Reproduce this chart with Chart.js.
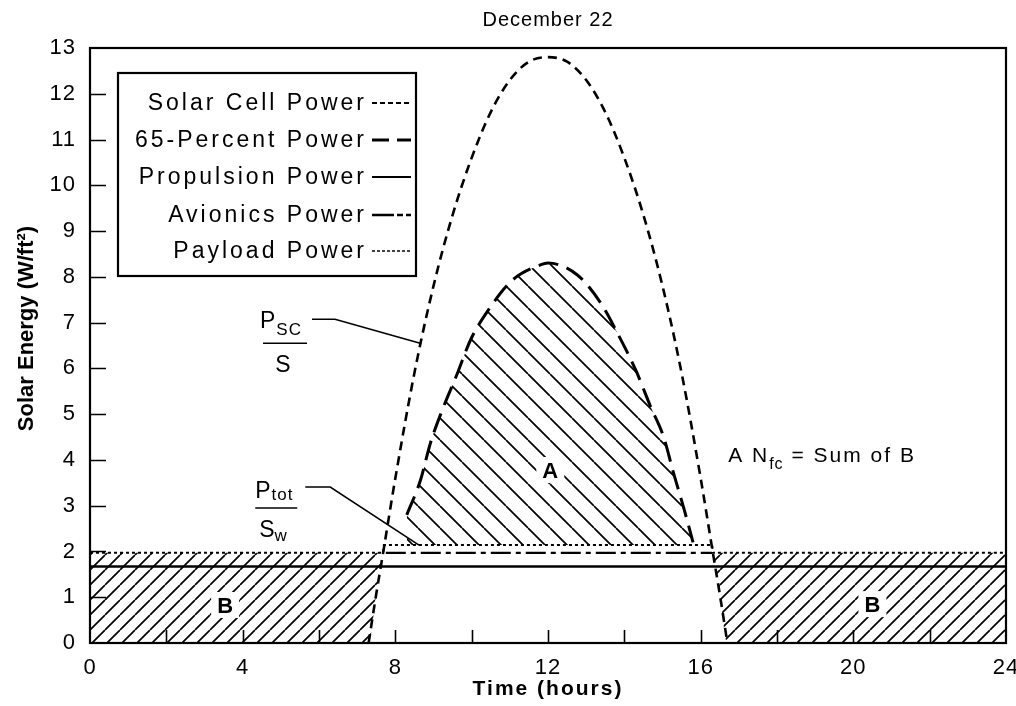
<!DOCTYPE html>
<html><head><meta charset="utf-8">
<script src="https://cdn.jsdelivr.net/npm/chart.js@4.4.1/dist/chart.umd.min.js"></script>
<style>html,body{margin:0;padding:0;background:#fff;}canvas{display:block;}</style>
</head><body>
<canvas id="c" width="1016" height="706"></canvas>
<script>
// ---- data ----
const solarHours = [7.3, 7.5, 7.68, 8, 8.5, 9, 9.5, 10, 10.5, 11, 11.5, 12, 12.5, 13, 13.5, 14, 14.5, 15, 15.5, 16, 16.32, 16.5, 16.7];
const solarPower = [0, 1.07, 1.97, 3.6, 5.9, 7.8, 9.35, 10.6, 11.6, 12.3, 12.7, 12.8, 12.7, 12.3, 11.6, 10.6, 9.35, 7.8, 5.9, 3.6, 1.97, 1.07, 0];
const pct65Hours = [8.3, 8.66, 8.92, 9.23, 9.63, 9.97, 10.44, 11.07, 11.8, 12.0, 12.77, 13.38, 13.82, 14.3, 14.69, 15.03, 15.29, 15.55, 15.8];
const pct65Power = [2.8, 3.56, 4.37, 5.09, 5.9, 6.62, 7.28, 7.93, 8.26, 8.3, 8.04, 7.43, 6.77, 5.96, 5.16, 4.5, 3.71, 2.97, 2.2];
const propulsionHours = [0, 24];
const propulsionPower = [1.67, 1.67];
const avionicsHours = [7.75, 16.3];
const avionicsPower = [1.97, 1.97];
const payloadHours = [0, 7.68, 7.7, 16.3, 16.32, 24];
const payloadPower = [1.97, 1.97, 2.14, 2.14, 1.97, 1.97];
const hourLabels = [0, 4, 8, 12, 16, 20, 24];
const hourTickMarks = [2, 4, 6, 8, 10, 12, 14, 16, 18, 20, 22];
const energyTickMarks = [1, 2, 3, 4, 5, 6, 7, 8, 9, 10, 11, 12];
const seriesNames = ['Solar Cell Power', '65-Percent Power', 'Propulsion Power', 'Avionics Power', 'Payload Power'];

const pts = (xs, ys) => xs.map((x, i) => ({x, y: ys[i]}));
const solarPts = pts(solarHours, solarPower);
const payloadPts = pts(payloadHours, payloadPower);
const payloadDayLevel = Math.max(...payloadPower);
const nightLevel = payloadPower[0];
const crossL = payloadHours[1], crossR = payloadHours[4];
// lower edges of the hatched night regions B (axis, then the solar curve)
const bBotL = [{x: 0, y: 0}].concat(solarPts.filter(p => p.x <= crossL).map(p => ({x: p.x, y: p.y})));
const bBotR = solarPts.filter(p => p.x >= crossR).map(p => ({x: p.x, y: p.y})).concat([{x: 24, y: 0}]);

function hatch(size, dir) {
  const c = document.createElement('canvas'); c.width = c.height = size;
  const g = c.getContext('2d'); g.strokeStyle = '#000'; g.lineWidth = 1.7;
  g.beginPath();
  for (let k = -1; k <= 1; k++) {
    if (dir === '/') { g.moveTo(k * size, size); g.lineTo(k * size + size, 0); }
    else { g.moveTo(k * size, 0); g.lineTo(k * size + size, size); }
  }
  g.stroke();
  return g.createPattern(c, 'repeat');
}
const hatchA = hatch(22, '\\');
const hatchB = hatch(15, '/');
const NONE = 'rgba(0,0,0,0)';

// letter spacing tweaks for the scanned Helvetica look
if (Chart.Scale) {
  const P = Chart.Scale.prototype, oL = P.drawLabels, oT = P.drawTitle;
  P.drawLabels = function (a) { const c = this.ctx; const s = c.letterSpacing; c.letterSpacing = '1px'; oL.call(this, a); c.letterSpacing = s; };
  P.drawTitle = function () { const c = this.ctx; c.save(); if (this.axis === 'x') { c.letterSpacing = '2px'; } else { c.letterSpacing = '0px'; c.translate(0, -17); } oT.call(this); c.restore(); };
}

Chart.defaults.font.family = "'Liberation Sans', Arial, Helvetica, sans-serif";
Chart.defaults.color = '#000';

const lineBase = {pointRadius: 0, fill: false, borderColor: '#000', backgroundColor: NONE, cubicInterpolationMode: 'monotone'};

const datasets = [
  Object.assign({}, lineBase, {label: seriesNames[0], data: solarPts, borderWidth: 2.6, borderDash: [9, 6], legendDash: [5, 3], legendWidth: 2}),
  Object.assign({}, lineBase, {label: seriesNames[1], data: pts(pct65Hours, pct65Power), borderWidth: 3, borderDash: [20, 9], fill: {value: payloadDayLevel}, backgroundColor: hatchA, legendDash: [17, 8], legendWidth: 3}),
  Object.assign({}, lineBase, {label: seriesNames[2], data: pts(propulsionHours, propulsionPower), borderWidth: 2.4, borderDash: [], legendDash: [], legendWidth: 2}),
  Object.assign({}, lineBase, {label: seriesNames[3], data: pts(avionicsHours, avionicsPower), borderWidth: 2.4, borderDash: [20, 5, 5, 5], legendDash: [22, 3, 6, 3], legendWidth: 2.5}),
  Object.assign({}, lineBase, {label: seriesNames[4], data: payloadPts, borderWidth: 2, borderDash: [3, 3], cubicInterpolationMode: 'default', tension: 0, legendDash: [3, 2], legendWidth: 1.6}),
  Object.assign({}, lineBase, {label: 'B left', data: bBotL, borderWidth: 0, borderColor: NONE, fill: {value: nightLevel}, backgroundColor: hatchB}),
  Object.assign({}, lineBase, {label: 'B right', data: bBotR, borderWidth: 0, borderColor: NONE, fill: {value: nightLevel}, backgroundColor: hatchB})
];

// annotation anchors (data units)
const notes = {
  psc: {bar: [5.11, 6.55], target: [8.65, 6.55]},
  ptot: {bar: [4.88, 2.95], target: [8.62, 2.14]},
  sum: [16.72, 3.95],
  labelA: [12.06, 3.78],
  labelB: [[3.54, 0.83], [20.5, 0.85]]
};

function t(ctx, s, x, y, font, align, spacing) {
  ctx.font = font; ctx.textAlign = align || 'left'; ctx.textBaseline = 'alphabetic';
  ctx.letterSpacing = spacing || '0px';
  ctx.fillText(s, x, y);
  return ctx.measureText(s).width;
}
function seg(ctx, ...p) {
  ctx.beginPath(); ctx.moveTo(p[0][0], p[0][1]);
  for (let i = 1; i < p.length; i++) ctx.lineTo(p[i][0], p[i][1]);
  ctx.stroke();
}

const F = "'Liberation Sans', Arial, sans-serif";
const overlay = {
  id: 'overlay',
  beforeDraw(chart) { chart.ctx.letterSpacing = '1px'; },
  afterDatasetsDraw(chart) {
    const {ctx, chartArea: a, scales: {x, y}} = chart;
    const px = d => [x.getPixelForValue(d[0]), y.getPixelForValue(d[1])];
    ctx.save();
    ctx.fillStyle = '#000'; ctx.strokeStyle = '#000'; ctx.setLineDash([]);
    // bold region labels with white backing
    const lab = (d, s) => { const [cx, cy] = px(d); ctx.fillStyle = '#fff'; ctx.fillRect(cx - 14, cy - 13, 28, 26); ctx.fillStyle = '#000'; t(ctx, s, cx, cy + 8, "bold 22px " + F, 'center'); };
    lab(notes.labelA, 'A');
    notes.labelB.forEach(d => lab(d, 'B'));
    // frame
    ctx.lineWidth = 2.2;
    ctx.strokeRect(a.left, a.top, a.right - a.left, a.bottom - a.top);
    // inward tick marks
    ctx.lineWidth = 1.6;
    ctx.beginPath();
    energyTickMarks.forEach(v => { const yy = Math.round(y.getPixelForValue(v)) + 0.5; ctx.moveTo(a.left, yy); ctx.lineTo(a.left + 16, yy); });
    hourTickMarks.forEach(h => { const xx = Math.round(x.getPixelForValue(h)) + 0.5; ctx.moveTo(xx, a.bottom); ctx.lineTo(xx, a.bottom - 13); });
    ctx.stroke();
    // legend box
    const L = a.left + 28, T = a.top + 25, W = 298, H = 203;
    ctx.fillStyle = '#fff'; ctx.fillRect(L, T, W, H); ctx.fillStyle = '#000';
    ctx.lineWidth = 2.2; ctx.strokeRect(L, T, W, H);
    const rows = [29, 66, 103, 141, 177];
    chart.data.datasets.slice(0, 5).forEach((ds, i) => {
      const ry = T + rows[i];
      t(ctx, ds.label, L + 249, ry + 8, "23px " + F, 'right', '3px');
      ctx.save(); ctx.lineWidth = ds.legendWidth; ctx.setLineDash(ds.legendDash);
      ctx.beginPath(); ctx.moveTo(L + 254, ry + 1); ctx.lineTo(L + 293, ry + 1); ctx.stroke(); ctx.restore();
    });
    ctx.setLineDash([]);
    // P_SC / S
    {
      const [bx, by] = px(notes.psc.bar);
      const w = t(ctx, 'P', bx - 25, by - 15, "23px " + F, 'left', '0px');
      t(ctx, 'SC', bx - 25 + w + 1, by - 8, "17px " + F, 'left', '1px');
      ctx.lineWidth = 1.5; seg(ctx, [bx - 22, by], [bx + 22, by]);
      t(ctx, 'S', bx - 2, by + 29, "23px " + F, 'center', '0px');
      const tp = px(notes.psc.target);
      ctx.lineWidth = 1.6; seg(ctx, [bx + 27, by - 24], [bx + 50, by - 24], tp);
    }
    // P_tot / S_w
    {
      const [bx, by] = px(notes.ptot.bar);
      const w = t(ctx, 'P', bx - 21, by - 10, "23px " + F, 'left', '0px');
      t(ctx, 'tot', bx - 21 + w + 1, by - 8, "17px " + F, 'left', '1px');
      ctx.lineWidth = 1.5; seg(ctx, [bx - 21, by], [bx + 21, by]);
      const w2 = t(ctx, 'S', bx - 17, by + 29, "23px " + F, 'left', '0px');
      t(ctx, 'w', bx - 17 + w2, by + 33, "17px " + F, 'left', '0px');
      const tp = px(notes.ptot.target);
      ctx.lineWidth = 1.6; seg(ctx, [bx + 29, by - 21], [bx + 54, by - 21], tp);
    }
    // A N_fc = Sum of B
    {
      let [sx, sy] = px(notes.sum);
      sx += t(ctx, 'A N', sx, sy, "21px " + F, 'left', '2px');
      sx += t(ctx, 'fc', sx, sy + 7, "16px " + F, 'left', '1px');
      t(ctx, ' = Sum of B', sx, sy, "21px " + F, 'left', '2px');
    }
    ctx.restore();
  }
};

new Chart(document.getElementById('c'), {
  type: 'line',
  data: {datasets},
  options: {
    responsive: false, animation: false, devicePixelRatio: 1, events: [],
    layout: {padding: {left: 0, right: 10, top: 0, bottom: 0}},
    plugins: {
      legend: {display: false}, tooltip: {enabled: false},
      title: {display: true, text: 'December 22', fullSize: false, color: '#000', font: {size: 20, weight: 'normal'}, padding: {top: 8, bottom: 16}}
    },
    scales: {
      x: {
        type: 'linear', min: hourLabels[0], max: hourLabels[hourLabels.length - 1],
        grid: {display: false, drawTicks: false}, border: {display: false},
        ticks: {stepSize: hourLabels[1] - hourLabels[0], font: {size: 22}, padding: 12, maxRotation: 0, autoSkip: false, color: '#000'},
        title: {display: true, text: 'Time (hours)', color: '#000', font: {size: 21, weight: 'bold'}, padding: {top: 0, bottom: 4}},
        afterFit(s) { s.height = 63; s.paddingLeft = 0; s.paddingRight = 10; }
      },
      y: {
        min: 0, max: 13,
        grid: {display: false, drawTicks: false}, border: {display: false},
        ticks: {stepSize: 1, font: {size: 22}, padding: 14, color: '#000'},
        title: {display: true, text: 'Solar Energy (W/ft²)', color: '#000', font: {size: 22, weight: 'bold'}, padding: {top: 14, bottom: 0}},
        afterFit(s) { s.width = 90; s.paddingTop = 0; s.paddingBottom = 0; }
      }
    }
  },
  plugins: [overlay]
});
</script>
</body></html>
